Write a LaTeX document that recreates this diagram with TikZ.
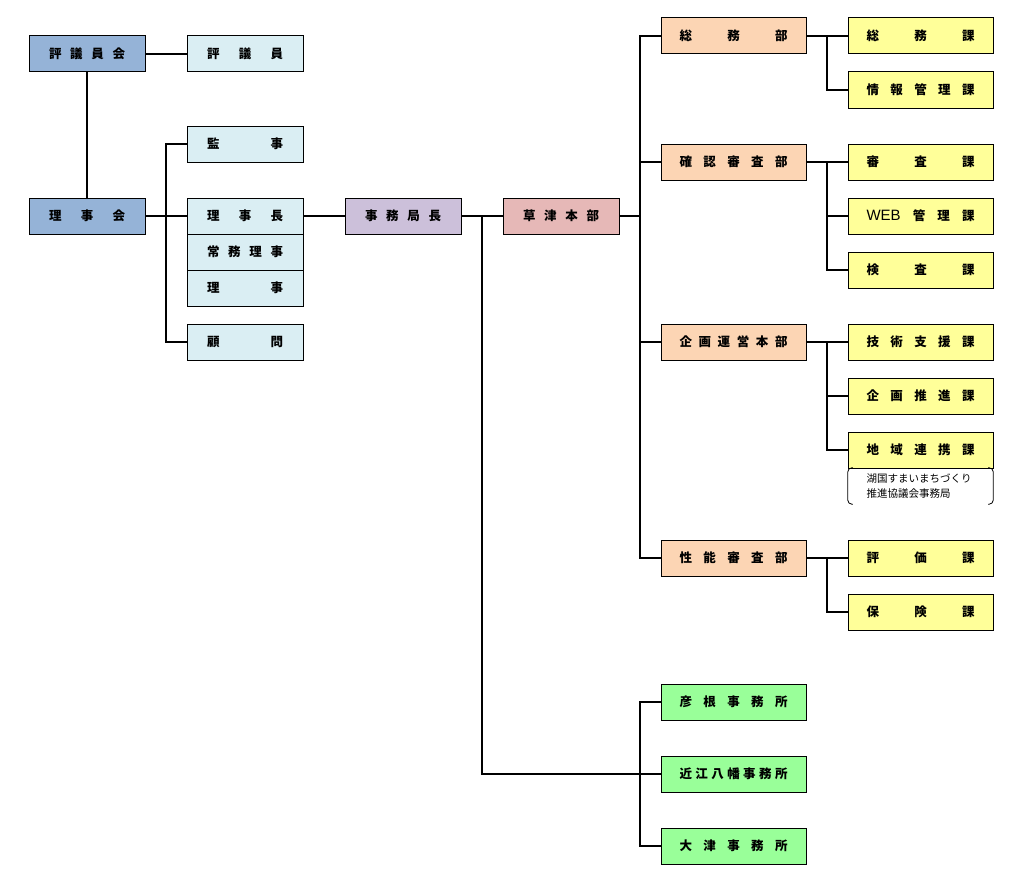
\documentclass[tikz,border=0pt]{standalone}
\usepackage{fontspec}
\setmainfont{Noto Sans CJK JP}
\newfontfamily\webfont{Liberation Sans}
\usepackage{xcolor}
\usetikzlibrary{positioning}
\usetikzlibrary{calc}

\definecolor{councilblue}{HTML}{95B3D7}
\definecolor{officerblue}{HTML}{DAEEF3}
\definecolor{chieflilac}{HTML}{CCC0DA}
\definecolor{hqrose}{HTML}{E6B8B7}
\definecolor{deptpeach}{HTML}{FCD5B4}
\definecolor{sectyellow}{HTML}{FFFF99}
\definecolor{officegreen}{HTML}{99FF99}

% spread the characters over the box
\newcommand{\spreadS}[1]{\makebox[76pt][s]{#1}}
\newcommand{\spreadW}[1]{\makebox[108pt][s]{#1}}

\begin{document}
\begin{tikzpicture}[x=1pt, y=-1pt,
		orgbox/.style={draw, line width=1pt, minimum height=36pt, inner sep=0pt,
			font=\bfseries\fontsize{12.5}{14}\selectfont},
		smallbox/.style={orgbox, minimum width=116pt},
		widebox/.style={orgbox, minimum width=145pt},
		conn/.style={line width=2pt}]
		\useasboundingbox (0,0) rectangle (1023,883);
		%
		%評議員会・理事会
		\node[smallbox, fill=councilblue] (hyoginkai) at (87,54) {\spreadS{評 議 員 会}};
		\node[smallbox, fill=officerblue] (hyogiin) at (245,54) {\spreadS{評 議 員}};
		\node[smallbox, fill=councilblue] (rijikai) at (87,216) {\spreadS{理 事 会}};
		%
		%役員
		\node[smallbox, fill=officerblue] (kanji) at (245,144) {\spreadS{監 事}};
		\node[smallbox, fill=officerblue] (rijicho) at (245,216) {\spreadS{理 事 長}};
		\node[smallbox, fill=officerblue] (jomu) at (245,252) {\spreadS{常 務 理 事}};
		\node[smallbox, fill=officerblue] (riji) at (245,288) {\spreadS{理 事}};
		\node[smallbox, fill=officerblue] (komon) at (245,342) {\spreadS{顧 問}};
		%
		%事務局長・草津本部
		\node[smallbox, fill=chieflilac] (kyokucho) at (403,216) {\spreadS{事 務 局 長}};
		\node[smallbox, fill=hqrose] (kusatsu) at (561,216) {\spreadS{草 津 本 部}};
		%
		%部
		\node[widebox, fill=deptpeach] (somubu) at (733.5,36) {\spreadW{総 務 部}};
		\node[widebox, fill=deptpeach] (kakuninbu) at (733.5,162) {\spreadW{確 認 審 査 部}};
		\node[widebox, fill=deptpeach] (kikakubu) at (733.5,342) {\spreadW{企 画 運 営 本 部}};
		\node[widebox, fill=deptpeach] (seinobu) at (733.5,558) {\spreadW{性 能 審 査 部}};
		%
		%課
		\node[widebox, fill=sectyellow] (somuka) at (920.5,36) {\spreadW{総 務 課}};
		\node[widebox, fill=sectyellow] (johoka) at (920.5,90) {\spreadW{情 報 管 理 課}};
		\node[widebox, fill=sectyellow] (shinsaka) at (920.5,162) {\spreadW{審 査 課}};
		\node[widebox, fill=sectyellow] (webka) at (920.5,216) {\spreadW{{\mdseries\webfont\fontsize{15}{16}\selectfont WEB} 管 理 課}};
		\node[widebox, fill=sectyellow] (kensaka) at (920.5,270) {\spreadW{検 査 課}};
		\node[widebox, fill=sectyellow] (gijutsuka) at (920.5,342) {\spreadW{技 術 支 援 課}};
		\node[widebox, fill=sectyellow] (suishinka) at (920.5,396) {\spreadW{企 画 推 進 課}};
		\node[widebox, fill=sectyellow] (chiikika) at (920.5,450) {\spreadW{地 域 連 携 課}};
		\node[widebox, fill=sectyellow] (hyokaka) at (920.5,558) {\spreadW{評 価 課}};
		\node[widebox, fill=sectyellow] (hokenka) at (920.5,612) {\spreadW{保 険 課}};
		%
		%協議会事務局
		\node[minimum width=145pt, minimum height=36pt, inner sep=0pt, text width=108pt, align=left,
			font=\fontsize{10.5}{15}\selectfont] (kokoku) at (920.5,486) {湖国すまいまちづくり\\推進協議会事務局};
		\draw[line width=0.8pt, rounded corners=4pt] ([xshift=5pt]kokoku.north west) -- (kokoku.north west) -- (kokoku.south west) -- ([xshift=5pt]kokoku.south west);
		\draw[line width=0.8pt, rounded corners=4pt] ([xshift=-5pt]kokoku.north east) -- (kokoku.north east) -- (kokoku.south east) -- ([xshift=-5pt]kokoku.south east);
		%
		%事務所
		\node[widebox, fill=officegreen] (hikone) at (733.5,702) {\spreadW{彦 根 事 務 所}};
		\node[widebox, fill=officegreen] (omi) at (733.5,774) {\spreadW{近 江 八 幡 事 務 所}};
		\node[widebox, fill=officegreen] (otsu) at (733.5,846) {\spreadW{大 津 事 務 所}};
		%
		%評議員会の線
		\draw[conn] (hyoginkai.east) -- (hyogiin.west);
		\draw[conn] (hyoginkai.south) -- (rijikai.north);
		%
		%理事会の線
		\draw[conn] (rijikai.east) -- (rijicho.west);
		\draw[conn] (kanji.west) -- ++(-21,0) |- (komon.west);
		%
		%理事長から草津本部
		\draw[conn] (rijicho.east) -- (kyokucho.west);
		\draw[conn] (kyokucho.east) -- (kusatsu.west);
		\coordinate (split) at ($(kyokucho.east)!0.5!(kusatsu.west)$);
		\draw[conn] (split) |- (omi.west);
		\draw[conn] (hikone.west) -- ++(-21,0) |- (otsu.west);
		%
		%草津本部から部
		\draw[conn] (kusatsu.east) -- ++(21,0);
		\draw[conn] (somubu.west) -- ++(-21,0) |- (seinobu.west);
		\draw[conn] (kakuninbu.west) -- ++(-21,0);
		\draw[conn] (kikakubu.west) -- ++(-21,0);
		%
		%部から課
		\draw[conn] (somubu.east) -- (somuka.west);
		\draw[conn] (somuka.west) -- ++(-21,0) |- (johoka.west);
		\draw[conn] (kakuninbu.east) -- (shinsaka.west);
		\draw[conn] (shinsaka.west) -- ++(-21,0) |- (kensaka.west);
		\draw[conn] (webka.west) -- ++(-21,0);
		\draw[conn] (kikakubu.east) -- (gijutsuka.west);
		\draw[conn] (gijutsuka.west) -- ++(-21,0) |- (chiikika.west);
		\draw[conn] (suishinka.west) -- ++(-21,0);
		\draw[conn] (seinobu.east) -- (hyokaka.west);
		\draw[conn] (hyokaka.west) -- ++(-21,0) |- (hokenka.west);
	\end{tikzpicture}
\end{document}
